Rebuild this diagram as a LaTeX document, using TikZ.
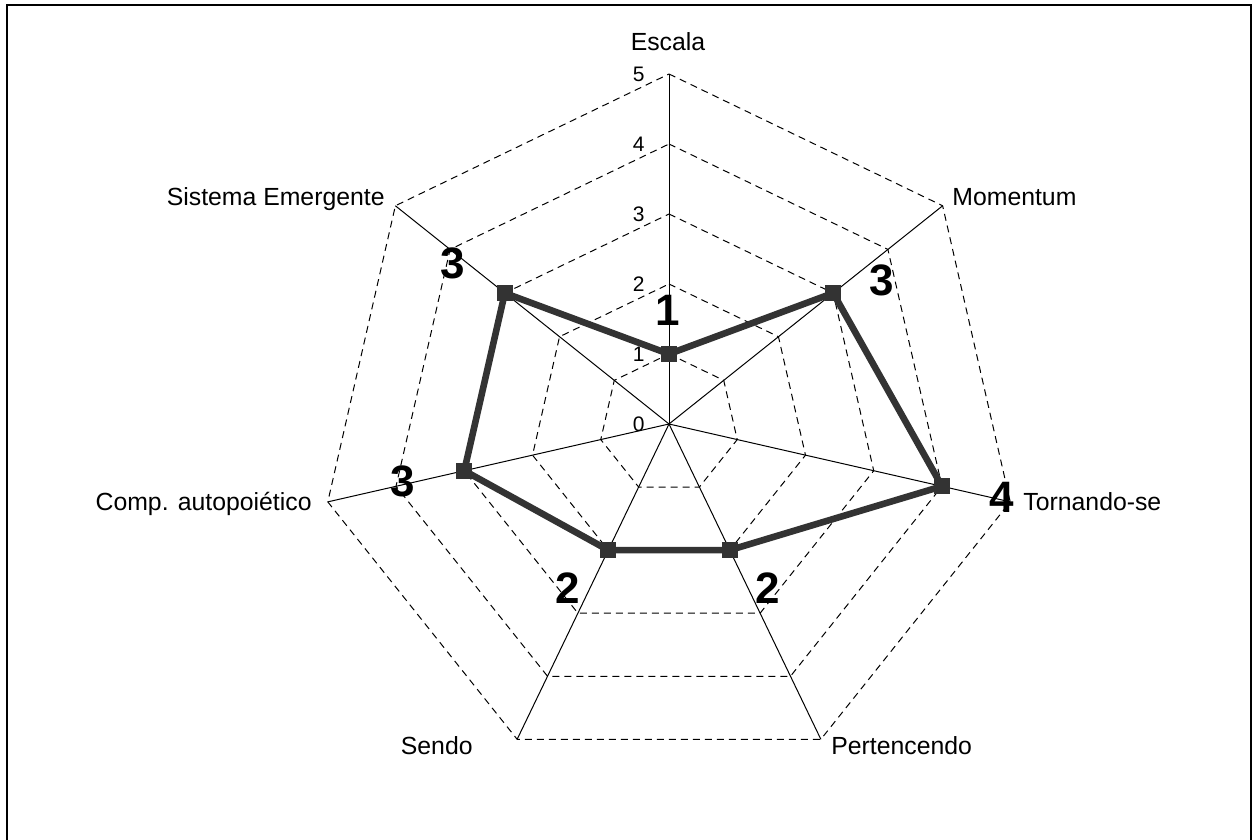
\documentclass[tikz,border=0pt]{standalone}
\usepackage{fontspec}
\setmainfont{Liberation Sans}
\definecolor{dataclr}{HTML}{333333}
\begin{document}
\begin{tikzpicture}[x=0.5pt,y=0.5pt,
  gridline/.style={line width=0.5pt,dash pattern=on 3.5pt off 2.5pt},
  axisline/.style={line width=0.5pt},
  dataline/.style={line width=3.3pt,draw=dataclr,line join=miter},
  marker/.style={rectangle,fill=dataclr,inner sep=0pt,minimum size=8pt},
  axlabel/.style={inner sep=0pt,font=\fontsize{12.4}{15}\selectfont},
  ticklabel/.style={inner sep=0pt,anchor=east,font=\fontsize{10.5}{12}\selectfont},
  biglabel/.style={inner sep=0pt,font=\fontsize{22}{26}\selectfont\bfseries}]
\useasboundingbox (0,0) rectangle (1253,840);
\draw[line width=1pt] (7,-10) -- (7,835) -- (1251,835) -- (1251,-10);
\begin{scope}[shift={(669,416)}]
  \coordinate (O) at (0,0);
  \foreach \k in {0,...,6} {
    \coordinate (a\k) at ({90-\k*360/7}:350);
  }
  % grid
  \foreach \r in {1,...,5} {
    \draw[gridline] ({90}:{\r*70})
      -- ({90-360/7}:{\r*70}) -- ({90-2*360/7}:{\r*70})
      -- ({90-3*360/7}:{\r*70}) -- ({90-4*360/7}:{\r*70})
      -- ({90-5*360/7}:{\r*70}) -- ({90-6*360/7}:{\r*70}) -- cycle;
  }
  \foreach \k in {0,...,6} {
    \draw[axisline] (O) -- (a\k);
  }
  % tick labels
  \foreach \r in {0,...,5} {
    \node[ticklabel] (t\r) at (-24,{\r*70}) {\r};
  }
  % data
  \coordinate (d0) at ({90}:70);
  \coordinate (d1) at ({90-360/7}:210);
  \coordinate (d2) at ({90-2*360/7}:280);
  \coordinate (d3) at ({90-3*360/7}:140);
  \coordinate (d4) at ({90-4*360/7}:140);
  \coordinate (d5) at ({90-5*360/7}:210);
  \coordinate (d6) at ({90-6*360/7}:210);
  \draw[dataline] (d0) -- (d1) -- (d2) -- (d3) -- (d4) -- (d5) -- (d6) -- cycle;
  \foreach \k in {0,...,6} {
    \node[marker] (m\k) at (d\k) {};
  }
\end{scope}
% axis labels
\node[axlabel,anchor=base] (lEscala) at (668,789) {Escala};
\node[axlabel,anchor=base west] (lMom) at (952,634) {Momentum};
\node[axlabel,anchor=base west] (lTorn) at (1023,329) {Tornando-se};
\node[axlabel,anchor=base west] (lPert) at (831,85) {Pertencendo};
\node[axlabel,anchor=base east] (lSendo) at (473,85) {Sendo};
\node[axlabel,anchor=base east] (lComp) at (312,329) {Comp. autopoiético};
\node[axlabel,anchor=base east] (lSist) at (385,634) {Sistema Emergente};
% big value labels
\node[biglabel] (v0) at (668,530) {1};
\node[biglabel] (v1) at (882,560) {3};
\node[biglabel] (v2) at (1002,343) {4};
\node[biglabel] (v3) at (768,252) {2};
\node[biglabel] (v4) at (568,252) {2};
\node[biglabel] (v5) at (403,359) {3};
\node[biglabel] (v6) at (453,577) {3};
\end{tikzpicture}
\end{document}
